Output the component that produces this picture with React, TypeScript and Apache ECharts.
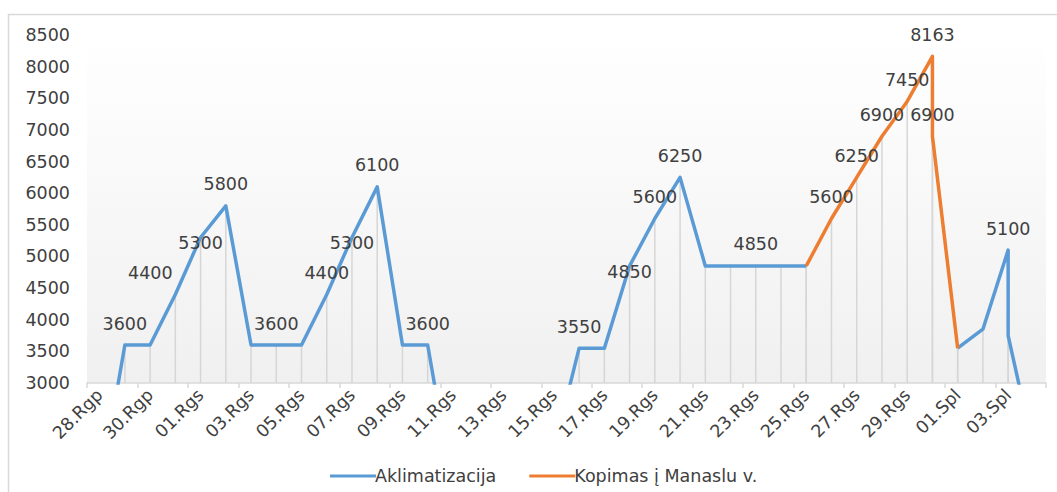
import React, { useEffect, useRef } from "react";
import * as echarts from "echarts";

const dates = [
  "28.Rgp", "29.Rgp", "30.Rgp", "31.Rgp",
  "01.Rgs", "02.Rgs", "03.Rgs", "04.Rgs", "05.Rgs", "06.Rgs", "07.Rgs", "08.Rgs", "09.Rgs", "10.Rgs",
  "11.Rgs", "12.Rgs", "13.Rgs", "14.Rgs", "15.Rgs", "16.Rgs", "17.Rgs", "18.Rgs", "19.Rgs", "20.Rgs",
  "21.Rgs", "22.Rgs", "23.Rgs", "24.Rgs", "25.Rgs", "26.Rgs", "27.Rgs", "28.Rgs", "29.Rgs", "30.Rgs",
  "01.Spl", "02.Spl", "03.Spl", "04.Spl",
];

// [date, altitude]; null = no value
const aklimatizacija: [string, number | null][] = [
  ["28.Rgp", 1300], ["29.Rgp", 3600], ["30.Rgp", 3600], ["31.Rgp", 4400],
  ["01.Rgs", 5300], ["02.Rgs", 5800], ["03.Rgs", 3600], ["04.Rgs", 3600],
  ["05.Rgs", 3600], ["06.Rgs", 4400], ["07.Rgs", 5300], ["08.Rgs", 6100],
  ["09.Rgs", 3600], ["10.Rgs", 3600], ["11.Rgs", 1300], ["12.Rgs", null],
  ["13.Rgs", null], ["14.Rgs", null], ["15.Rgs", 1950], ["16.Rgs", 3550],
  ["17.Rgs", 3550], ["18.Rgs", 4850], ["19.Rgs", 5600], ["20.Rgs", 6250],
  ["21.Rgs", 4850], ["22.Rgs", 4850], ["23.Rgs", 4850], ["24.Rgs", 4850],
  ["25.Rgs", 4850], ["26.Rgs", null], ["27.Rgs", null], ["28.Rgs", null],
  ["29.Rgs", null], ["30.Rgs", null], ["01.Spl", 3550], ["02.Spl", 3850],
  ["03.Spl", 5100], ["03.Spl", 3750], ["04.Spl", 1950],
];
const aklimatizacijaLabelled = [1, 3, 4, 5, 7, 9, 10, 11, 13, 19, 21, 22, 23, 26, 36];

const kopimas: [string, number][] = [
  ["25.Rgs", 4850], ["26.Rgs", 5600], ["27.Rgs", 6250], ["28.Rgs", 6900],
  ["29.Rgs", 7450], ["30.Rgs", 8163], ["30.Rgs", 6900], ["01.Spl", 3550],
];
const kopimasLabelled = [1, 2, 3, 4, 5, 6];

// label placement overrides (index in series -> placement), default: above the point
const akliLabelPlacement: Record<number, { position: string; dx: number; dy: number }> = {
  3: { position: "top", dx: -25, dy: 0 },
  4: { position: "inside", dx: 0, dy: 6 },
  10: { position: "inside", dx: 0, dy: 6 },
  21: { position: "inside", dx: 0, dy: 6 },
};

const yMin = 3000;
const yMax = 8500;
const yStep = 500;

const FONT = "DejaVu Sans";
const TEXT = "#404040";
const FS = 17.5;
const BLUE = "#5b9bd5";
const ORANGE = "#ed7d31";

export default function App() {
  const ref = useRef<HTMLDivElement>(null);
  useEffect(() => {
    document.body.style.margin = "0";
    if (!ref.current) return;
    const chart = echarts.init(ref.current, undefined, { renderer: "svg" });

    const mk = (
      arr: [string, number | null][],
      labelled: number[],
      placement: Record<number, { position: string; dx: number; dy: number }> = {}
    ) =>
      arr.map((d, i) => ({
        value: [d[0], d[1] == null ? "-" : d[1]],
        label: {
          show: labelled.includes(i),
          ...(placement[i] ? { position: placement[i].position } : {}),
        },
      }));

    const dropData = [...aklimatizacija, ...kopimas]
      .filter((d) => d[1] != null)
      .map((d) => [d[0], d[1]]);

    const labelStyle = {
      show: false,
      position: "top",
      distance: 12,
      fontFamily: FONT,
      fontSize: FS,
      color: TEXT,
      formatter: (p: any) => String(p.value[1]),
    };

    const lineCommon = {
      type: "line",
      showSymbol: true,
      showAllSymbol: true,
      symbol: "circle",
      symbolSize: 1,
      connectNulls: false,
      label: labelStyle,
    };

    chart.setOption({
      animation: false,
      textStyle: { fontFamily: FONT },
      graphic: [
        {
          type: "rect",
          shape: { x: 8.5, y: 14.5, width: 1100, height: 600 },
          style: { fill: "none", stroke: "#d9d9d9", lineWidth: 1.5 },
          silent: true,
          z: -10,
        },
      ],
      grid: {
        left: 87,
        right: 11,
        top: 35,
        bottom: 109,
        show: true,
        borderWidth: 0,
        backgroundColor: new echarts.graphic.LinearGradient(0, 0, 0, 1, [
          { offset: 0, color: "#ffffff" },
          { offset: 1, color: "#f0f0f0" },
        ]),
      },
      legend: {
        left: 325,
        top: 462,
        icon: "rect",
        itemWidth: 46,
        itemHeight: 3,
        itemGap: 33,
        textStyle: { fontFamily: FONT, fontSize: FS, color: TEXT, padding: [0, 0, 0, -6] },
        data: [
          { name: "Aklimatizacija", itemStyle: { color: BLUE } },
          { name: "Kopimas į Manaslu v.", itemStyle: { color: ORANGE } },
        ],
      },
      xAxis: {
        type: "category",
        data: dates,
        boundaryGap: true,
        axisLine: { lineStyle: { color: "#d9d9d9", width: 1.5 } },
        axisTick: { show: true, interval: 1, length: 5, lineStyle: { color: "#d9d9d9", width: 1.5 } },
        axisLabel: {
          interval: 1,
          rotate: 45,
          margin: 9,
          fontFamily: FONT,
          fontSize: FS,
          color: TEXT,
        },
        splitLine: { show: false },
      },
      yAxis: {
        type: "value",
        min: yMin,
        max: yMax,
        interval: yStep,
        axisLine: { show: false },
        axisTick: { show: false },
        splitLine: { show: false },
        axisLabel: {
          margin: 17,
          fontFamily: FONT,
          fontSize: FS,
          color: TEXT,
          formatter: (v: number) => String(v),
        },
      },
      series: [
        {
          type: "custom",
          name: "drop",
          silent: true,
          z: 1,
          data: dropData,
          renderItem: (params: any, api: any) => {
            const v = api.value(1);
            if (v == null || isNaN(v) || v <= yMin) return null;
            const x = api.value(0);
            const top = api.coord([x, v]);
            const bottom = api.coord([x, yMin]);
            return {
              type: "line",
              shape: { x1: top[0], y1: top[1], x2: bottom[0], y2: bottom[1] },
              style: { stroke: "#d6d6d6", lineWidth: 1.5 },
            };
          },
        },
        {
          ...lineCommon,
          name: "Aklimatizacija",
          z: 3,
          data: mk(aklimatizacija, aklimatizacijaLabelled, akliLabelPlacement),
          labelLayout: (p: any) => {
            const pl = akliLabelPlacement[p.dataIndex];
            return pl ? { dx: pl.dx, dy: pl.dy } : {};
          },
          lineStyle: { color: BLUE, width: 3.5, join: "round" },
          itemStyle: { color: "rgba(0,0,0,0)", borderWidth: 0 },
        },
        {
          ...lineCommon,
          name: "Kopimas į Manaslu v.",
          z: 4,
          data: mk(kopimas, kopimasLabelled),
          lineStyle: { color: ORANGE, width: 3.5, join: "round" },
          itemStyle: { color: "rgba(0,0,0,0)", borderWidth: 0 },
        },
      ],
    });
    return () => chart.dispose();
  }, []);
  return <div ref={ref} style={{ width: 1057, height: 492 }} />;
}
